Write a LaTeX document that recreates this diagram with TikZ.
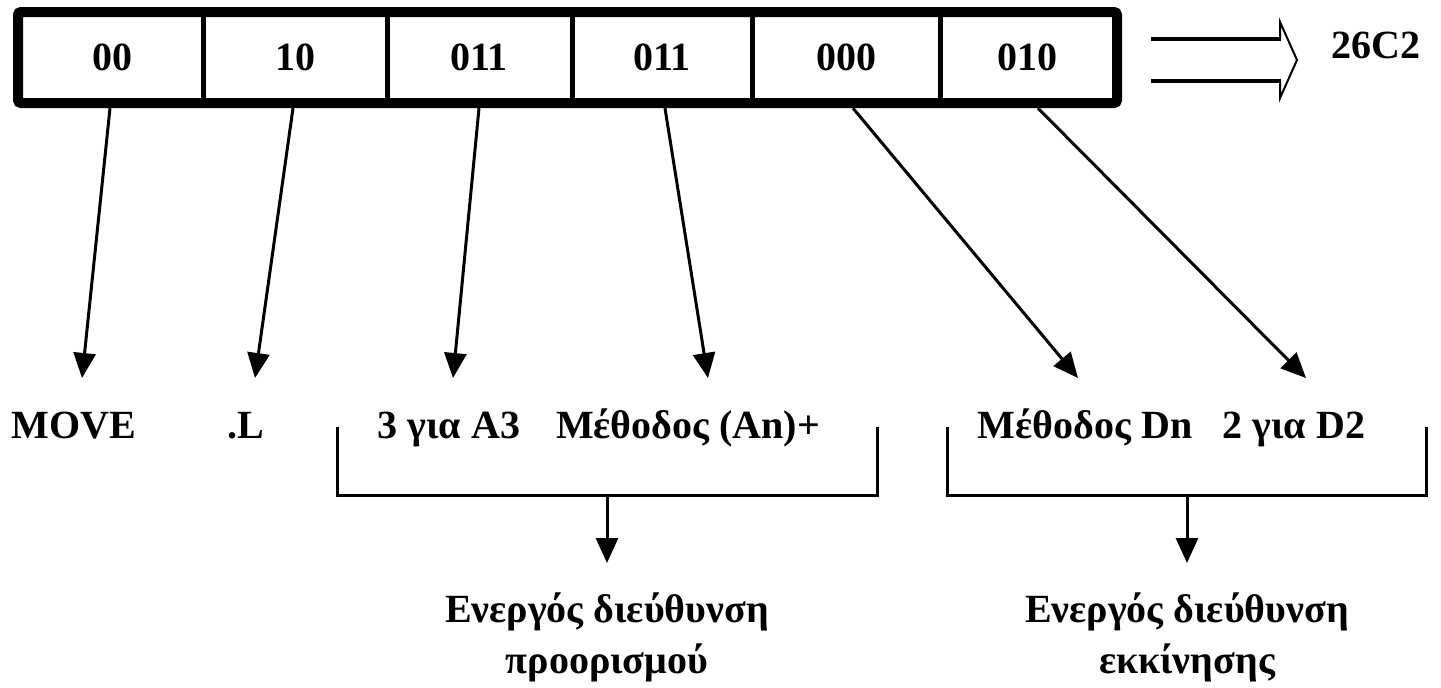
\documentclass[tikz,border=0pt]{standalone}
\usepackage{fontspec}
\setmainfont{Liberation Serif}
\usetikzlibrary{arrows.meta}
\begin{document}
\begin{tikzpicture}[x=1pt,y=-1pt,
  txt/.style={font=\fontsize{40}{46}\selectfont\bfseries, inner sep=0pt},
  cell/.style={txt, minimum height=102pt},
  lbl/.style={txt, anchor=base},
  arr/.style={line width=3pt, -{Triangle[length=25pt,width=22pt]}},
  brk/.style={line width=3pt},
  frame/.style={line width=10pt, rounded corners=3pt},
  divider/.style={line width=5pt}]
\useasboundingbox (0,0) rectangle (1441,688);

% instruction word
\draw[frame] (18,12) rectangle (1117,103);
\foreach \x in {203,387,572,752,940} \draw[divider] (\x,17) -- (\x,98);
\node[cell] (c1) at (112,57) {00};
\node[cell] (c2) at (295,57) {10};
\node[cell] (c3) at (479,57) {011};
\node[cell] (c4) at (662,57) {011};
\node[cell] (c5) at (846,57) {000};
\node[cell] (c6) at (1027,57) {010};

% hollow arrow to the hex value
\draw[line width=3.5pt] (1151,39) -- (1281,39) (1151,81) -- (1281,81);
\draw[line width=2pt, line join=miter] (1280,39) -- (1280,22) -- (1297,60) -- (1280,98) -- (1280,81);
\node[lbl] (hex) at (1376,58) {26C2};

% field meanings
\node[lbl] (move) at (74,438) {MOVE};
\node[lbl] (size) at (246,438) {.L};
\node[lbl] (dreg) at (449,438) {3 για A3};
\node[lbl] (dmode) at (688,438) {Μέθοδος (An)+};
\node[lbl] (smode) at (1085,438) {Μέθοδος Dn};
\node[lbl] (sreg) at (1294,438) {2 για D2};

\coordinate (t1) at (82,378);
\coordinate (t2) at (255,378);
\coordinate (t3) at (453,378);
\coordinate (t4) at (708,378);
\coordinate (t5) at (1078,378);
\coordinate (t6) at (1306,378);

\draw[arr] ([xshift=-2pt]c1.south) -- (t1);
\draw[arr] ([xshift=-2pt]c2.south) -- (t2);
\draw[arr] (c3.south) -- (t3);
\draw[arr] ([xshift=3pt]c4.south) -- (t4);
\draw[arr] ([xshift=7pt]c5.south) -- (t5);
\draw[arr] ([xshift=11pt]c6.south) -- (t6);

% grouping brackets
\draw[brk] (337,427) |- (877,495) -- (877,427);
\draw[brk] (947,427) |- (1426,495) -- (1426,427);
\coordinate (bl) at (607,495);
\coordinate (br) at (1187,495);
\coordinate (bltip) at (607,563);
\coordinate (brtip) at (1187,563);

\node[lbl] (dst1) at (607,622) {Ενεργός διεύθυνση};
\node[lbl] (dst2) at (607,673) {προορισμού};
\node[lbl] (src1) at (1187,622) {Ενεργός διεύθυνση};
\node[lbl] (src2) at (1187,673) {εκκίνησης};

\draw[arr] (bl) -- (bltip);
\draw[arr] (br) -- (brtip);
\end{tikzpicture}
\end{document}
